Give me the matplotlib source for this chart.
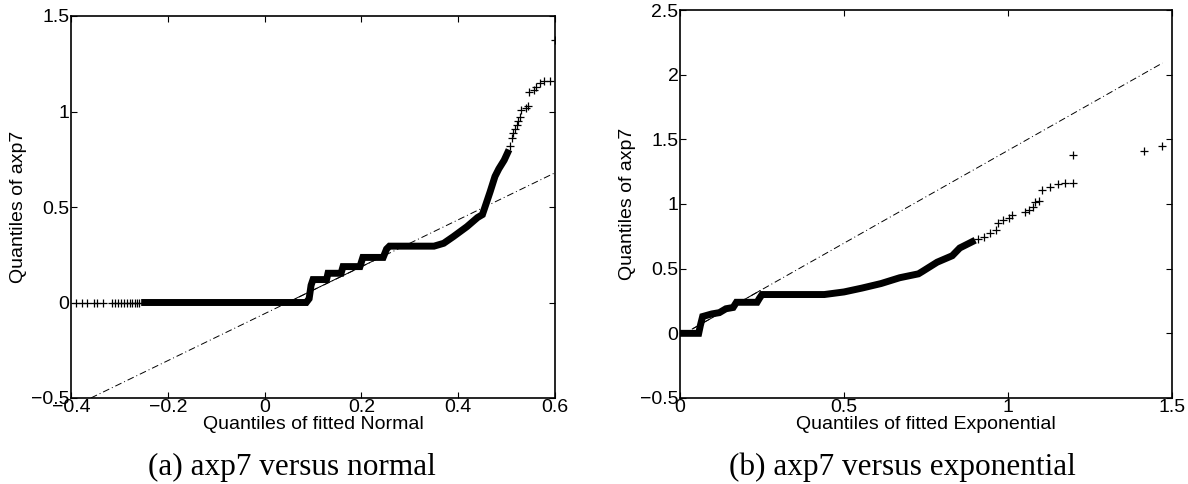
import matplotlib
matplotlib.use("Agg")
import matplotlib.pyplot as plt

plt.rcParams['font.family'] = ['Liberation Sans', 'DejaVu Sans']

# ---------------- data ----------------
# (a) axp7 versus fitted Normal quantiles
normal_dense_x = [-0.255, 0.086, 0.092, 0.096, 0.100, 0.128, 0.131, 0.158, 0.162, 0.197,
                  0.203, 0.245, 0.252, 0.258, 0.350, 0.370, 0.390, 0.418, 0.440, 0.450,
                  0.458, 0.466, 0.476, 0.484, 0.495, 0.505]
normal_dense_y = [0.0, 0.0, 0.02, 0.09, 0.12, 0.12, 0.153, 0.153, 0.188, 0.188,
                  0.236, 0.236, 0.28, 0.295, 0.295, 0.31, 0.345, 0.397, 0.445, 0.46,
                  0.52, 0.58, 0.66, 0.70, 0.745, 0.80]
normal_tail_x = [-0.39, -0.378, -0.366, -0.352, -0.346, -0.334, -0.316, -0.31, -0.303,
                 -0.297, -0.29, -0.284, -0.278, -0.273, -0.268, -0.263, -0.259,
                 0.508, 0.512, 0.514, 0.518, 0.521, 0.524, 0.527, 0.530, 0.541, 0.545,
                 0.546, 0.556, 0.560, 0.568, 0.578, 0.59, 0.6]
normal_tail_y = [0.0] * 17 + [0.82, 0.86, 0.89, 0.91, 0.93, 0.95, 0.97, 1.01, 1.02, 1.03,
                              1.10, 1.11, 1.13, 1.15, 1.16, 1.16, 1.375]
normal_ref_x = [-0.359, 0.6]          # dash-dot reference line ends
normal_ref_y = [-0.5, 0.679]
normal_quart_x = [0.057, 0.253]       # solid part (between quartiles)
normal_quart_y = [0.012, 0.253]

# (b) axp7 versus fitted Exponential quantiles
expo_dense_x = [0.0, 0.057, 0.062, 0.069, 0.097, 0.12, 0.14, 0.162, 0.172, 0.235, 0.242,
                0.25, 0.44, 0.5, 0.555, 0.613, 0.67, 0.727, 0.74, 0.784, 0.83, 0.853, 0.9]
expo_dense_y = [0.0, 0.0, 0.06, 0.13, 0.15, 0.16, 0.19, 0.2, 0.24, 0.24, 0.27,
                0.30, 0.30, 0.32, 0.35, 0.385, 0.43, 0.46, 0.48, 0.55, 0.6, 0.66, 0.72]
expo_tail_x = [0.91, 0.927, 0.945, 0.962, 0.97, 0.985, 1.002, 1.013, 1.053, 1.065, 1.076,
               1.082, 1.096, 1.105, 1.128, 1.151, 1.174, 1.199, 1.199, 1.416, 1.471]
expo_tail_y = [0.73, 0.748, 0.774, 0.80, 0.851, 0.877, 0.89, 0.916, 0.941, 0.954, 0.975,
               1.019, 1.024, 1.109, 1.130, 1.156, 1.161, 1.161, 1.38, 1.406, 1.452]
expo_ref_x = [0.0, 1.471]
expo_ref_y = [-0.02, 2.09]
expo_quart_x = [0.04, 0.244]
expo_quart_y = [0.037, 0.330]

normal_xticks = [-0.4, -0.2, 0, 0.2, 0.4, 0.6]
normal_xticklabels = ['\u22120.4', '\u22120.2', '0', '0.2', '0.4', '0.6']
normal_yticks = [-0.5, 0, 0.5, 1, 1.5]
normal_yticklabels = ['\u22120.5', '0', '0.5', '1', '1.5']
expo_xticks = [0, 0.5, 1, 1.5]
expo_xticklabels = ['0', '0.5', '1', '1.5']
expo_yticks = [-0.5, 0, 0.5, 1, 1.5, 2, 2.5]
expo_yticklabels = ['\u22120.5', '0', '0.5', '1', '1.5', '2', '2.5']

# ---------------- figure ----------------
W, H = 1188, 484
fig = plt.figure(figsize=(W / 100, H / 100), dpi=100)

axL = fig.add_axes([71 / W, (H - 398) / H, 484 / W, 382 / H])
axR = fig.add_axes([680 / W, (H - 398) / H, 492 / W, 388 / H])

FS = 14

def style(ax, xlim, ylim, xt, xtl, yt, ytl, xlabel, ylabel, caption, cap_dx):
    ax.set_xlim(*xlim)
    ax.set_ylim(*ylim)
    ax.set_xticks(xt)
    ax.set_xticklabels(xtl, fontsize=FS)
    ax.set_yticks(yt)
    ax.set_yticklabels(ytl, fontsize=FS)
    ax.tick_params(direction='in', top=True, right=True, length=4, width=0.8,
                   pad=1)
    for s in ax.spines.values():
        s.set_linewidth(1.2)
    ax.set_xlabel(xlabel, fontsize=FS, labelpad=0)
    ax.set_ylabel(ylabel, fontsize=FS, labelpad=3)
    bb = ax.get_position()
    fig.text(bb.x0 + bb.width * (0.5 + cap_dx), 1 - 467 / H, caption,
             ha='center', va='center', fontsize=22.5,
             family=['Liberation Serif', 'DejaVu Serif'])

def draw(ax, dx, dy, tx, ty, rx, ry, qx, qy):
    ax.plot(rx, ry, color='black', lw=0.7, ls=(0, (7, 3, 1, 3)), zorder=2)
    ax.plot(qx, qy, color='black', lw=0.7, ls='-', zorder=2)
    ax.plot(dx, dy, color='black', lw=5.0, solid_joinstyle='miter',
            solid_capstyle='butt', zorder=3)
    ax.plot(tx, ty, ls='none', marker='+', ms=6, mew=0.9, color='black',
            zorder=3, clip_on=True)

draw(axL, normal_dense_x, normal_dense_y, normal_tail_x, normal_tail_y,
     normal_ref_x, normal_ref_y, normal_quart_x, normal_quart_y)
style(axL, (-0.4, 0.6), (-0.5, 1.5), normal_xticks, normal_xticklabels,
      normal_yticks, normal_yticklabels, 'Quantiles of fitted Normal',
      'Quantiles of axp7', '(a) axp7 versus normal', -0.044)

draw(axR, expo_dense_x, expo_dense_y, expo_tail_x, expo_tail_y,
     expo_ref_x, expo_ref_y, expo_quart_x, expo_quart_y)
style(axR, (0, 1.5), (-0.5, 2.5), expo_xticks, expo_xticklabels,
      expo_yticks, expo_yticklabels, 'Quantiles of fitted Exponential',
      'Quantiles of axp7', '(b) axp7 versus exponential', -0.047)

fig.savefig('out.png', dpi=100)
